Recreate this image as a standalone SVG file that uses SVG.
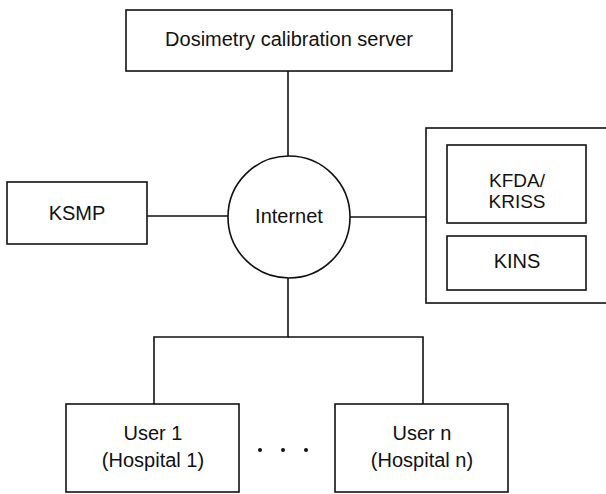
<svg xmlns="http://www.w3.org/2000/svg" width="606" height="494" viewBox="0 0 606 494">
<style>
.b{fill:#fff;stroke:#111;stroke-width:1.6}
.l{fill:none;stroke:#111;stroke-width:1.6}
text{font-family:"Liberation Sans",Arial,sans-serif;font-size:20px;fill:#111;text-anchor:middle}
.s{font-size:19px}
</style>
<rect width="606" height="494" fill="#fff"/>
<g id="connectors">
<line class="l" x1="288" y1="71" x2="288" y2="156"/>
<line class="l" x1="147" y1="216" x2="228" y2="216"/>
<line class="l" x1="350" y1="217" x2="426" y2="217"/>
<polyline class="l" points="288,278 288,337 154,337 154,404"/>
<polyline class="l" points="288,337 423,337 423,404"/>
</g>
<g id="server"><rect class="b" x="126" y="10" width="326" height="61"/><text x="289" y="46">Dosimetry calibration server</text></g>
<g id="internet"><circle class="b" cx="289" cy="217" r="61"/><text x="289" y="223">Internet</text></g>
<g id="ksmp"><rect class="b" x="7" y="182" width="140" height="62"/><text x="77" y="220">KSMP</text></g>
<g id="agencies"><rect class="b" x="426" y="128" width="190" height="175"/></g>
<g id="kfda"><rect class="b" x="447" y="145" width="139" height="78"/><text class="s" x="517" y="187">KFDA/</text><text class="s" x="517" y="208">KRISS</text></g>
<g id="kins"><rect class="b" x="447" y="236" width="139" height="54"/><text x="517" y="268">KINS</text></g>
<g id="user1"><rect class="b" x="66" y="404" width="173" height="88"/><text x="153" y="440">User 1</text><text x="153" y="467">(Hospital 1)</text></g>
<g id="dots"><circle cx="260" cy="450" r="2" fill="#111"/><circle cx="283" cy="450" r="2" fill="#111"/><circle cx="306" cy="450" r="2" fill="#111"/></g>
<g id="usern"><rect class="b" x="335" y="404" width="173" height="88"/><text x="422" y="440">User n</text><text x="422" y="467">(Hospital n)</text></g>
</svg>
